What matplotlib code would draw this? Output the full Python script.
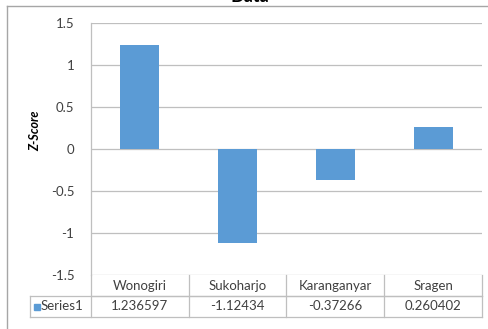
import matplotlib.pyplot as plt
import numpy as np
from matplotlib.lines import Line2D
from matplotlib.patches import Rectangle

# data
categories = ["Wonogiri", "Sukoharjo", "Karanganyar", "Sragen"]
series_name = "Series1"
z_scores = [1.236597, -1.12434, -0.37266, 0.260402]
z_labels = ["1.236597", "-1.12434", "-0.37266", "0.260402"]
y_ticks = [-1.5, -1, -0.5, 0, 0.5, 1, 1.5]
y_tick_labels = ["-1.5", "-1", "-0.5", "0", "0.5", "1", "1.5"]

bar_color = "#5B9BD5"
line_gray = "#BFBFBF"
text_color = "#404040"

plt.rcParams["font.family"] = ["Lato", "DejaVu Sans"]

W, H = 489, 329
fig = plt.figure(figsize=(W / 100, H / 100), dpi=100)

# plot area in pixels: x 91..482, y 23..275
left, right, top, bottom = 91, 482, 23, 275
ax = fig.add_axes([left / W, 1 - bottom / H, (right - left) / W, (bottom - top) / H])

x = np.arange(len(categories))
ax.bar(x, z_scores, width=0.4, color=bar_color, zorder=3)

ax.set_xlim(-0.5, len(categories) - 0.5)
ax.set_ylim(-1.5, 1.5)
ax.set_yticks(y_ticks)
ax.set_yticklabels(y_tick_labels, fontsize=9.5, color=text_color)
ax.tick_params(axis="y", length=0, pad=12)
ax.set_xticks([])
ax.grid(axis="y", color=line_gray, linewidth=0.9, zorder=0)
for side in ["top", "right", "bottom"]:
    ax.spines[side].set_visible(False)
ax.spines["left"].set_color(line_gray)
ax.spines["left"].set_linewidth(0.9)

# y label
fig.text(35 / W, 1 - 131 / H, "Z-Score", rotation=90, ha="center", va="center",
         fontsize=9, fontweight="bold", fontstyle="italic", color="black")

# data table under the axis
row_h = 21 / (bottom - top)
label_left = (30 - left) / (right - left)
tr = ax.get_xaxis_transform()
lk = dict(color=line_gray, linewidth=0.9, clip_on=False, zorder=4)

# horizontal lines
ax.plot([-0.5, len(categories) - 0.5], [-row_h, -row_h], transform=tr, **lk)
ax.plot([label_left, 1], [-row_h, -row_h], transform=ax.transAxes, **lk)
ax.plot([label_left, 1], [-2 * row_h, -2 * row_h], transform=ax.transAxes, **lk)
# vertical lines
ax.plot([0, 0], [0, -2 * row_h], transform=ax.transAxes, **lk)
ax.plot([label_left, label_left], [-row_h, -2 * row_h], transform=ax.transAxes, **lk)
for i in range(len(categories)):
    ax.plot([i + 0.5, i + 0.5], [0, -2 * row_h], transform=tr, **lk)

for i, (cat, lab) in enumerate(zip(categories, z_labels)):
    ax.text(i, -0.5 * row_h, cat, transform=tr, ha="center", va="center",
            fontsize=9.5, color=text_color)
    ax.text(i, -1.5 * row_h, lab, transform=tr, ha="center", va="center",
            fontsize=9.5, color=text_color)

# legend key + series name
key_w = 6 / (right - left)
key_h = 6 / (bottom - top)
ax.add_patch(Rectangle(((34 - left) / (right - left), -1.5 * row_h - key_h / 2),
                       key_w, key_h, transform=ax.transAxes, color=bar_color,
                       clip_on=False))
ax.text((41 - left) / (right - left), -1.5 * row_h, series_name, transform=ax.transAxes,
        ha="left", va="center", fontsize=9.5, color=text_color)

# chart border
fig.add_artist(Line2D([7 / W, 7 / W], [0, 1 - 6 / H], color="#A6A6A6", linewidth=1.0))
fig.add_artist(Line2D([7 / W, 1], [1 - 6 / H, 1 - 6 / H], color="#A6A6A6", linewidth=1.0))

# chart title (mostly above the visible area)
fig.text(250 / W, 1 - 1.5 / H, "Data", ha="center", va="baseline",
         fontsize=13, fontweight="bold", color="black")

fig.savefig("out.png", dpi=100)
